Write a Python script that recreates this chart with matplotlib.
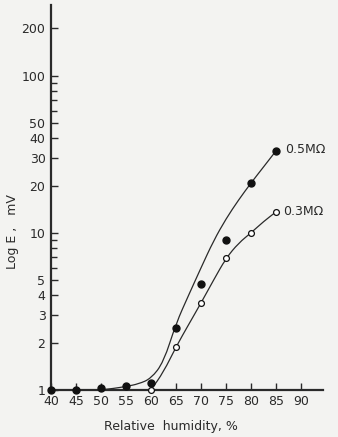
import numpy as np
import matplotlib.pyplot as plt
from matplotlib.path import Path
from matplotlib.patches import PathPatch
from matplotlib.transforms import IdentityTransform
from matplotlib.ticker import FixedLocator, NullFormatter

# measured points, relative humidity (%) vs E (mV)
rh_05 = [40, 45, 50, 55, 60, 65, 70, 75, 80, 85]
e_05 = [1.0, 1.0, 1.03, 1.05, 1.1, 2.48, 4.73, 9.0, 20.8, 33.3]
rh_03 = [60, 65, 70, 75, 80, 85]
e_03 = [1.0, 1.88, 3.58, 6.9, 10.0, 13.6]

# hand-drawn fitted curves
curve_rh_05 = [40, 42.5, 45, 47.5, 50, 52.5, 55, 57.5, 60, 62.5, 65, 67.5, 70, 72.5, 75, 77.5, 80, 82.5, 85]
curve_e_05 = [1.0, 1.0, 1.0, 1.0, 1.0, 1.02, 1.05, 1.09, 1.18, 1.5, 2.65, 4.0, 6.0, 8.9, 12.3, 16.2, 20.8, 26.3, 33.3]
curve_rh_03 = [60, 62.5, 65, 67.5, 70, 72.5, 75, 77.5, 80, 82.5, 85]
curve_e_03 = [1.0, 1.3, 1.88, 2.6, 3.58, 5.0, 6.9, 8.6, 10.0, 11.8, 13.6]

y_major = [1, 2, 3, 4, 5, 10, 20, 30, 40, 50, 100, 200]
y_minor = [6, 7, 8, 9, 60, 70, 80, 90]
x_ticks = [40, 45, 50, 55, 60, 65, 70, 75, 80, 85, 90]

bg = '#f3f3f1'
ink = '#2a2a2a'


def smooth_curve(ax, xs, ys, **kw):
    # quadratic bezier through midpoints, built in display space so the log axis is respected
    pts = ax.transData.transform(np.column_stack([xs, ys]))
    verts = [pts[0], (pts[0] + pts[1]) / 2]
    codes = [Path.MOVETO, Path.LINETO]
    for i in range(1, len(pts) - 1):
        verts += [pts[i], (pts[i] + pts[i + 1]) / 2]
        codes += [Path.CURVE3, Path.CURVE3]
    verts.append(pts[-1])
    codes.append(Path.LINETO)
    patch = PathPatch(Path(verts, codes), transform=IdentityTransform(),
                      fill=False, clip_on=False, **kw)
    ax.add_artist(patch)


fig = plt.figure(figsize=(3.38, 4.37), dpi=100, facecolor=bg)
ax = fig.add_axes([0.151, 0.108, 0.805, 0.881], facecolor=bg)

ax.set_yscale('log')
ax.set_ylim(1, 283)
ax.set_xlim(40, 94.4)

smooth_curve(ax, curve_rh_05, curve_e_05, edgecolor=ink, lw=0.9)
smooth_curve(ax, curve_rh_03, curve_e_03, edgecolor=ink, lw=0.9)
ax.plot(rh_05, e_05, 'o', color='#111111', ms=5, clip_on=False, zorder=3)
ax.plot(rh_03, e_03, 'o', mfc='white', mec='#111111', mew=0.9, ms=4.2, clip_on=False, zorder=3)

ax.yaxis.set_major_locator(FixedLocator(y_major))
ax.yaxis.set_minor_locator(FixedLocator(y_minor))
ax.set_yticklabels([str(v) for v in y_major])
ax.yaxis.set_minor_formatter(NullFormatter())
ax.set_xticks(x_ticks)
ax.set_xticklabels([str(v) for v in x_ticks])

ax.tick_params(axis='both', which='major', direction='in', length=5, width=1, colors=ink, labelsize=9, pad=4)
ax.tick_params(axis='y', which='minor', direction='in', length=4, width=1, colors=ink)

for side in ['top', 'right']:
    ax.spines[side].set_visible(False)
for side in ['left', 'bottom']:
    ax.spines[side].set_linewidth(1.6)
    ax.spines[side].set_color(ink)

ax.text(86.8, 34, '0.5M\u03a9', fontsize=9, color=ink, va='center')
ax.text(86.4, 13.6, '0.3M\u03a9', fontsize=9, color=ink, va='center')

fig.text(0.506, 0.023, 'Relative  humidity, %', fontsize=9, color=ink, ha='center', va='center')
fig.text(0.036, 0.47, 'Log E ,   mV', fontsize=9, color=ink, ha='center', va='center', rotation=90)

fig.savefig('out.png', dpi=100, facecolor=bg)
